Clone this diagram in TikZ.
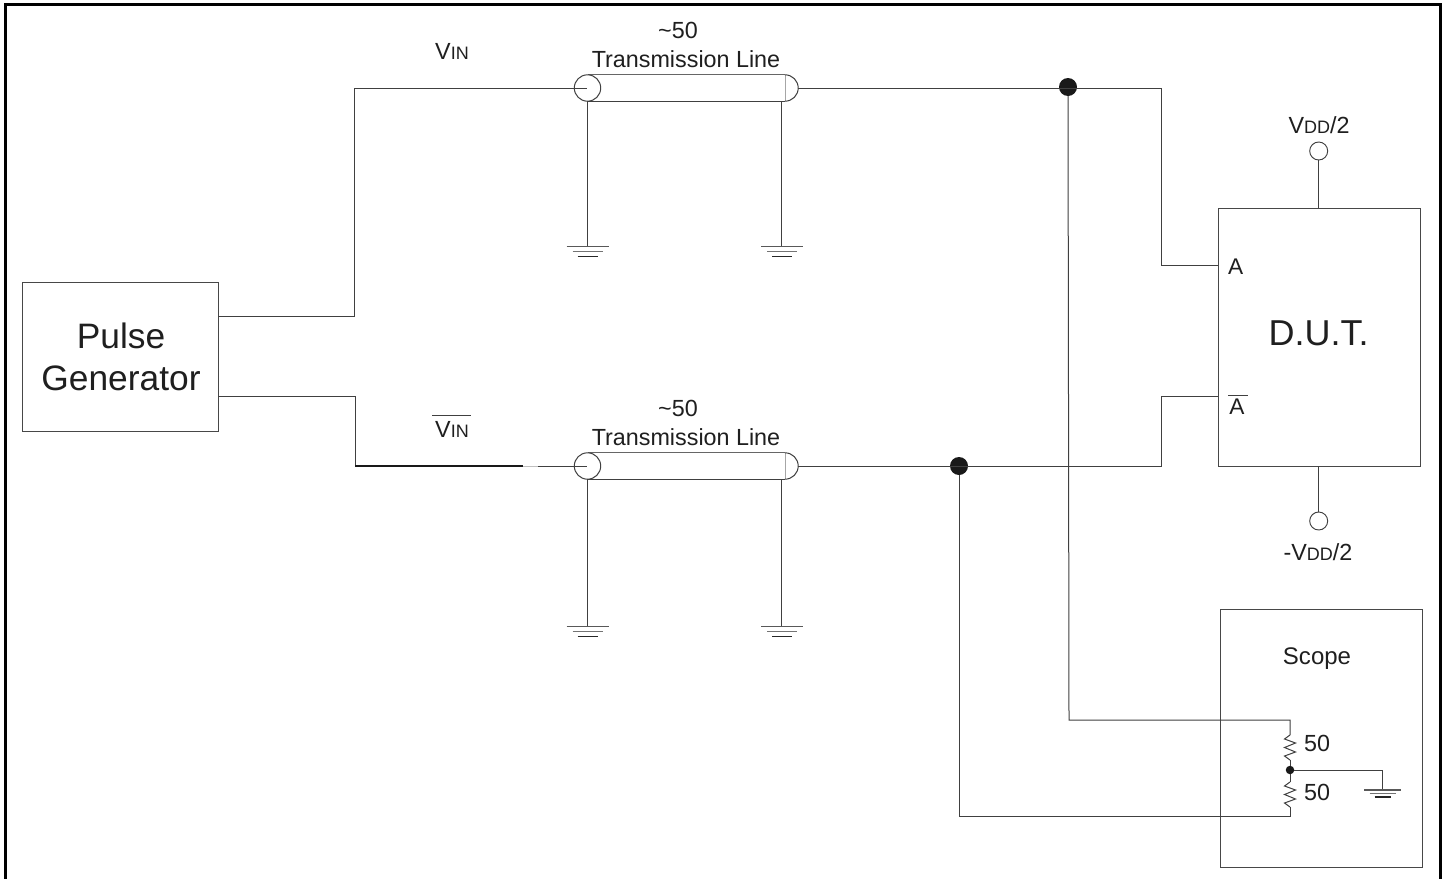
\documentclass[tikz,border=0pt]{standalone}
\usepackage{fontspec}
\setmainfont{Liberation Sans}
\usetikzlibrary{calc}
\newcommand{\smc}[1]{{\fontsize{13.5}{15}\selectfont #1}}
\tikzset{
  x=0.75pt,y=-0.75pt,
  wire/.style={draw=black!75,line width=0.75pt,line join=miter},
  boxed/.style={draw=black!72,line width=0.7pt,fill=none,inner sep=0pt,outer sep=0pt,align=center},
  txt/.style={inner sep=0pt,outer sep=0pt,text=black!88,align=center,font=\fontsize{17.5}{21}\selectfont},
  bigtxt/.style={inner sep=0pt,outer sep=0pt,text=black!88,align=center,font=\fontsize{26.5}{31}\selectfont},
  jdot/.style={circle,fill=black!90,draw=none,minimum size=18*0.75pt,inner sep=0pt,outer sep=0pt},
  sdot/.style={circle,fill=black!90,draw=none,minimum size=8.5*0.75pt,inner sep=0pt,outer sep=0pt},
  term/.style={circle,draw=black!75,fill=white,line width=0.7pt,minimum size=18*0.75pt,inner sep=0pt,outer sep=0pt},
}
% ground symbol: \gnd{x}{y}{half1}{half2}{half3}{step}
\newcommand{\gnd}[6]{%
  \draw[draw=black!65,line width=0.8pt] (#1-#3,#2) -- (#1+#3,#2);
  \draw[draw=black!55,line width=0.8pt] (#1-#4,#2+#6) -- (#1+#4,#2+#6);
  \draw[draw=black!85,line width=0.8pt] (#1-#5,#2+2*#6) -- (#1+#5,#2+2*#6);
}
% coax: \coax{name}{y}
\newcommand{\coax}[2]{%
  \coordinate (#1L) at (587,#2);
  \coordinate (#1R) at (785,#2);
  \draw[draw=black!60,line width=0.9pt] (587.5,#2-13.2) -- (785,#2-13.2);
  \draw[draw=black!75,line width=0.9pt] (587.5,#2+13.2) -- (785,#2+13.2);
  \draw[draw=black!35,line width=0.7pt] (785,#2-13.2) -- (785,#2+13.2);
  \draw[wire] (785,#2-13.2) arc[start angle=90,end angle=-90,radius=13.2*0.75pt];
  \draw[wire] (587.5,#2) circle[radius=13.2*0.75pt];
}
% resistor zigzag, vertical, from (x,y1) to (x,y2)
\newcommand{\zig}[3]{%
  \draw[wire] (#1,#2) -- ++(-5.5,4) -- ++(11,4) -- ++(-11,4.5) -- ++(11,4.5) -- ++(-11,4) -- (#1,#3);
}
\begin{document}
\begin{tikzpicture}
\useasboundingbox (0,0) rectangle (1445,878);
\fill[white] (0,0) rectangle (1445,878);
% outer frame
\draw[black,line width=2.5pt] (5.5,880) -- (5.5,4.5) -- (1440.3,4.5) -- (1440.3,880);

% boxes
\node[boxed,minimum width=196*0.75pt,minimum height=149*0.75pt,anchor=north west] (pg) at (22,282) {};
\node[bigtxt] at (121,357) {Pulse\\Generator};
\node[boxed,minimum width=202*0.75pt,minimum height=258*0.75pt,anchor=north west] (dut) at (1218,208) {};
\node[bigtxt,font=\fontsize{27}{31}\selectfont] at (1318.5,333) {D.U.T.};
\node[boxed,minimum width=202*0.75pt,minimum height=258*0.75pt,anchor=north west] (scope) at (1220,609) {};
\node[txt,font=\fontsize{18}{20}\selectfont] at (1317,658.5) {Scope};

% transmission lines
\coax{ct}{88}
\coax{cb}{466}
\node[txt] at (678,30) {\textasciitilde 50};
\node[txt] at (686,59.5) {Transmission Line};
\node[txt] at (678,408) {\textasciitilde 50};
\node[txt] at (686,437.5) {Transmission Line};

% dots
\node[jdot] (jt) at (1068,87) {};
\node[jdot] (jb) at (959,466) {};
\node[sdot] (jr) at (1290,770) {};

% supply terminals
\node[term] (vp) at (1318.7,151) {};
\node[term] (vn) at (1318.7,521) {};
\draw[wire] (vp) -- (dut.north -| vp);
\draw[wire] (vn) -- (dut.south -| vn);
\node[txt] at (1319,125) {V\smc{DD}/2};
\node[txt] at (1318,552) {-V\smc{DD}/2};

% port labels
\node[txt,font=\fontsize{17}{20}\selectfont] (pa) at (1235.7,267) {A};
\node[txt,font=\fontsize{17}{20}\selectfont] (pb) at (1237,407) {A};
\draw[wire] (1228,395) -- (1248,395);

% VIN labels
\node[txt] (vi) at (452,51) {V\smc{IN}};
\node[txt] (vib) at (452,429) {V\smc{IN}};
\draw[wire] (432,415) -- (471,415);

% pulse generator to coax
\draw[wire] (218,316) -- (354,316) -- (354,88) -- (ctL);
\draw[wire] (218,396) -- (355,396) -- (355,466);
\draw[draw=black!90,line width=1.3pt] (355,466) -- (523,466);
\draw[draw=black!25,line width=0.7pt] (523,466) -- (538,466);
\draw[wire] (538,466) -- (cbL);

% coax to DUT
\draw[wire] (798,88) -- (1161,88) -- (1161,265) -- (1218,265);
\draw[wire] (798,466) -- (1161,466) -- (1161,396) -- (1218,396);

% coax shields to ground
\draw[wire] (587,101) -- (587,246);
\draw[wire] (781.5,101) -- (781.5,246);
\draw[wire] (587,479) -- (587,626);
\draw[wire] (781.5,479) -- (781.5,626);
\gnd{587.5}{246.5}{21}{15}{10}{5}
\gnd{782}{246.5}{21}{15}{10}{5}
\gnd{587.5}{626.5}{21}{15}{10}{5}
\gnd{782}{626.5}{21}{15}{10}{5}

% to scope
\draw[wire] (jt) -- (1069,720) -- (1290,720) -- (1290,735);
\zig{1290}{735}{760}
\draw[wire] (1290,760) -- (jr);
\draw[wire] (jr) -- (1290,782);
\zig{1290}{782}{807}
\draw[wire] (1290,807) -- (1290,816) -- (959,816) -- (jb);
\draw[wire] (jr) -- (1382.5,770) -- (1382.5,790);
\gnd{1382.5}{790}{18.5}{13}{8}{3.5}
\node[txt] at (1317,743) {50};
\node[txt] at (1317,792) {50};
\end{tikzpicture}
\end{document}
